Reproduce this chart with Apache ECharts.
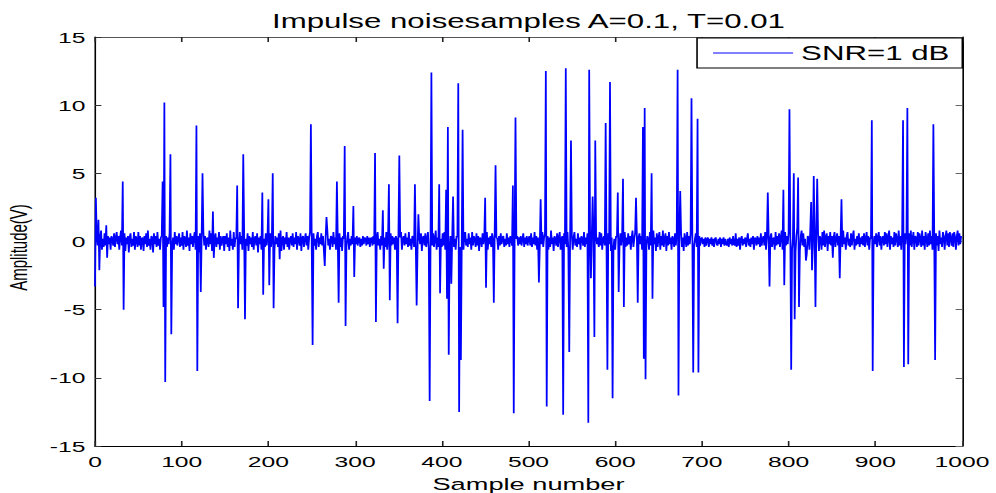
<!DOCTYPE html>
<html>
<head>
<meta charset="utf-8">
<script src="https://cdn.jsdelivr.net/npm/echarts@6/dist/echarts.min.js"></script>
<style>
html, body { margin: 0; padding: 0; background: #fff; overflow: hidden; width: 996px; height: 493px; }
/* the figure is laid out narrow and widened horizontally, like a resized MATLAB export */
#chart { width: 622px; height: 493px; transform: scaleX(1.60129); transform-origin: 0 0; }
</style>
</head>
<body>
<div id="chart"></div>
<script>
// Background noise, one row per 50 samples (volts)
const background = [
  .6,-.8,.4,-.3,.7,-.4,.3,.8,-.6,.2, -.4,.6,-.3,1,-.7,.4,-.2,.3,-.6,.4, .2,-.3,.6,-.4,.3,.7,-.2,.4,-.6,.3, .8,-.3,.2,-.4,.6,-.7,.3,-.2,.4,-.8, .3,.6,-.4,.2,-.3,.7,-.6,.4,.2,-.4,
  .7,-.3,.4,-.6,.2,.3,-.7,.4,-.2,.6, -.4,.8,-.3,.2,-.6,.4,.3,-.8,.6,-.2, .4,-.4,.7,-.3,.2,-.6,.3,.4,-.3,.8, -.6,.2,.4,-.4,.3,-.2,.6,-.7,.9,-.4, .3,-.6,.7,-.2,.4,-.3,.2,.6,-.4,.3,
  -.3,.7,-.6,.4,.2,-.4,.8,-.3,.3,-.7, .6,-.2,.4,-.4,.3,.7,-.6,.2,-.3,.4, -.8,.6,-.2,.3,-.4,.7,-.3,.4,-.6,.2, .3,-.4,.8,-.2,.6,-.7,.4,-.3,.2,.6, -.4,.3,-.2,.7,-.6,.4,-.3,.2,.4,-.7,
  .4,-.2,.6,-.4,.3,-.7,.8,-.3,.2,-.6, .7,-.4,.3,.2,-.6,.4,-.3,.7,-.2,.4, -.6,.3,.8,-.4,.2,-.3,.6,-.7,.4,-.2, .3,-.4,.7,-.6,.2,.4,-.3,.6,-.8,.3, -.2,.4,-.6,.7,-.3,.2,-.4,.6,-.3,.4,
  -.7,.3,.6,-.4,.2,-.3,.7,-.6,.4,-.2, .3,-.4,.6,-.3,.8,-.7,.2,.4,-.6,.3, -.2,.7,-.4,.3,-.6,.2,.4,-.3,.6,-.4, .3,-.2,.7,-.6,.4,.2,-.3,.6,-.7,.3, .4,-.4,.2,.6,-.3,.4,-.6,.3,.7,-.2,
  -.4,.3,.6,-.3,.2,-.6,.4,.7,-.4,.3, -.2,.6,-.3,.4,-.7,.2,.3,-.4,.8,-.3, .2,-.6,.4,.3,-.4,.7,-.2,.3,-.6,.4, .2,-.3,.6,-.4,.3,-.7,.4,.2,-.3,.6, -.4,.3,.7,-.6,.2,-.3,.4,-.2,.6,-.4,
  .3,-.2,.4,-.3,.2,.3,-.4,.2,-.3,.4, -.2,.3,.2,-.3,.4,-.2,.3,-.4,.2,.3, -.3,.4,-.2,.6,-.4,.3,.7,-.3,.2,-.6, .4,-.3,.6,-.2,.3,-.4,.7,-.6,.3,.2, -.4,.6,-.3,.4,-.2,.3,-.6,.4,.2,-.3,
  .6,-.4,.3,.7,-.6,.2,.4,-.3,.6,-.2, .3,-.4,.7,-.3,.2,-.6,.4,.3,-.4,.8, -.3,.2,-.6,.4,.3,-.2,.6,-.7,.3,.4, -.3,.6,-.4,.2,.7,-.6,.3,-.2,.4,-.3, .6,-.4,.2,.8,-.6,.3,-.4,.7,-.3,.2,
  -.4,.6,-.3,.7,-.6,.4,.2,-.3,.6,-.7, .4,-.2,.3,.7,-.4,.2,-.6,.4,.3,-.3, .6,-.4,.8,-.2,.3,-.6,.4,.7,-.3,.2, -.4,.6,-.2,.3,-.6,.7,-.3,.4,.2,-.4, .6,-.3,.4,-.7,.3,.2,-.4,.6,-.2,.3,
  -.3,.4,.7,-.6,.3,-.2,.4,-.4,.6,.2, -.3,.7,-.4,.3,.2,-.6,.4,-.3,.6,-.2, .3,.4,-.4,.2,-.3,.6,-.2,.3,-.4,.4, .2,-.3,.6,-.2,.3,-.4,.2,.4,-.3,.3, -.2,.4,-.3,.2,.6,-.4,.3,-.2,.4,-.3,
  .2,.4,-.3,.6,-.4,.3,-.2,.7,-.3,.4, -.6,.3,.2,-.4,.6,-.2,.7,-.4,.3,.6, -.3,.2,.4,-.6,.3,-.4,.8,-.2,.3,-.7, .4,.2,-.3,.6,-.4,.3,.7,-.6,.2,.4, -.3,.6,-.2,.3,-.4,.7,-.6,.4,.2,-.3,
  .4,-.6,.3,.7,-.3,.2,-.4,.6,-.2,.3, -.6,.4,.2,-.3,.7,-.4,.3,-.2,.6,-.4, .3,.8,-.6,.4,-.3,.2,.6,-.7,.4,-.2, .3,-.4,.7,-.3,.6,-.6,.2,.4,-.3,.7, -.4,.3,.6,-.2,.4,-.7,.3,.8,-.4,.2,
  -.6,.4,.3,-.4,.7,-.2,.6,-.3,.4,-.6, .2,.7,-.4,.3,-.3,.6,-.2,.4,-.6,.3, .8,-.4,.2,.6,-.3,.4,-.7,.3,.6,-.2, .4,-.6,.3,.2,-.4,.7,-.3,.4,.2,-.6, .7,-.3,.4,-.4,.8,-.2,.3,-.7,.6,-.4,
  .3,.7,-.6,.4,-.3,.8,-.4,.2,.6,-.7, .4,-.3,.7,-.2,.3,-.6,.4,.2,-.4,.6, -.3,.7,-.6,.3,.4,-.2,.6,-.4,.3,-.7, .6,.2,-.4,.7,-.3,.4,-.2,.6,-.6,.3, .4,-.3,.2,.6,-.4,.3,-.2,.4,-.3,.2,
  .3,-.2,.2,-.4,.3,-.3,.2,.3,-.4,.2, -.2,.3,-.3,.2,-.4,.2,.3,-.2,-.3,.2, -.2,.3,-.4,.2,-.2,.3,-.3,.2,-.2,-.3, .2,-.4,.3,-.2,.2,-.3,.4,-.2,-.3,.6, -.4,.2,-.3,.3,-.6,.2,.4,-.3,.2,-.2,
  .3,-.4,.2,.6,-.3,.2,-.4,.3,-.2,.4, -.6,.3,.2,-.3,.4,-.2,.3,-.4,.6,-.3, .2,.4,-.3,.7,-.6,.3,-.2,.4,-.7,.3, .6,-.4,.2,.3,-.6,.7,-.3,.4,-.2,.6, -.4,.3,.8,-.6,.2,-.4,.7,-.3,.4,-.2,
  .6,-.7,.4,.8,-.6,.3,-.4,.7,-.8,.4, 1,-.6,.3,-.7,.4,.8,-.3,.6,-.4,.2, .7,-.9,.4,.3,-.6,.8,-.4,.6,-.3,.4, .7,-.4,.8,-.3,.6,-.7,.4,.2,-.6,.7, -.3,.8,-.4,.3,.6,-.7,.4,-.2,.7,-.3,
  .4,-.6,.3,.7,-.4,.2,.6,-.3,.4,-.7, .3,.6,-.4,.8,-.2,.3,-.6,.4,.7,-.3, .2,-.4,.6,-.3,.4,.8,-.6,.2,-.3,.4, -.2,.6,-.4,.3,-.2,.4,-.3,.6,-.4,.2, .7,-.3,.4,-.6,.3,.2,-.4,.6,-.3,.4,
  -.2,.6,-.4,.3,.7,-.3,.4,-.6,.2,.4, -.3,.7,-.2,.6,-.4,.3,.8,-.6,.4,-.2, .3,-.4,.7,-.3,.6,.2,-.4,.8,-.3,.4, -.6,.7,.3,-.4,.6,-.2,.7,-.4,.3,.6, -.3,.8,-.4,.2,.7,-.6,.4,.3,-.4,.7,
  -.3,.6,.2,-.4,.8,-.3,.4,-.6,.7,.2, -.4,.6,-.3,.8,-.2,.4,-.6,.7,.3,-.4, .6,-.3,.4,-.7,.8,-.2,.3,-.4,.7,.3, -.6,.4,.8,-.3,.6,-.4,.7,.2,-.3,.6, -.4,.7,.3,-.6,.4,.8,-.3,.6,-.2,.4
];

// Impulse samples: sample number and amplitude (volts)
const spikeSamples = [
  0, 1, 4, 5, 13, 14, 32, 33, 78, 79, 80, 81, 87, 88, 117, 118, 122, 124, 136, 137,
  164, 165, 171, 173, 193, 194, 200, 201, 205, 206, 213, 249, 251, 265, 267, 279, 281, 288, 289, 298,
  299, 323, 324, 332, 333, 339, 340, 349, 351, 369, 371, 373, 386, 388, 397, 398, 405, 406, 407, 408,
  411, 413, 419, 420, 422, 424, 450, 451, 460, 462, 482, 483, 485, 512, 514, 520, 521, 540, 543, 547,
  549, 569, 570, 572, 574, 576, 577, 589, 591, 594, 597, 603, 604, 609, 610, 624, 626, 632, 633, 634,
  635, 642, 643, 672, 673, 675, 688, 690, 695, 696, 776, 778, 794, 795, 801, 803, 806, 807, 811, 812,
  820, 826, 827, 829, 831, 833, 851, 859, 861, 896, 897, 932, 933, 937, 938, 967, 969
];
const spikeAmplitudes = [
  -3.3, 3.2, 1.6, -2.1, 1.2, -1.2, 4.4, -5.0, 4.4, -4.8, 10.2, -10.3, 6.4, -6.8, 8.5, -9.5, -3.7, 5.0, 2.2, -1.2,
  4.1, -4.9, 6.4, -5.7, 3.6, -3.9, 3.1, -3.2, 5.0, -4.9, -1.3, 8.6, -7.6, -1.8, 1.8, 4.4, -4.5, 7.0, -6.2, 2.6,
  -2.6, 6.5, -5.9, 2.3, -2.0, 4.2, -4.3, -6.0, 6.3, 4.2, -4.7, 2.0, -11.7, 12.4, 4.2, -3.8, 3.8, -4.2, 8.4, -8.3,
  -3.1, 3.3, 11.6, -12.5, -8.7, 8.2, 3.2, -3.4, -4.5, 5.6, 4.1, -12.6, 9.1, -3.0, 3.1, 12.5, -12.1, -12.7, 12.7, -8.1,
  7.4, -13.3, 12.6, -2.7, 3.3, -7.0, 7.4, 8.7, -9.4, 11.7, -11.5, 3.6, -3.7, 4.6, -4.8, 3.2, -4.5, 8.4, -8.6, 9.8,
  -10.1, 5.0, -4.2, 12.6, -11.3, 3.7, 10.5, -9.6, 9.0, -9.6, 3.6, -3.3, 3.8, -3.2, 9.7, -9.4, 5.0, -5.7, 4.7, -4.8,
  -1.4, 2.9, -2.1, 4.8, -4.8, 4.6, -1.2, -2.7, 3.1, 8.9, -9.5, 8.9, -9.2, 9.8, -9.0, 8.6, -8.7
];

const xRange = { min: 0, max: 1000, step: 100 };
const yRange = { min: -15, max: 15, step: 5 };

const amplitude = background.slice();
spikeSamples.forEach((s, i) => { amplitude[s] = spikeAmplitudes[i]; });
const points = amplitude.map((v, i) => [i, v]);

const FONT = 'Liberation Sans, Arial, Helvetica, sans-serif';
const GRID_LEFT = 59.33, GRID_WIDTH = 541.43;

const chart = echarts.init(document.getElementById('chart'), null, { renderer: 'svg' });

const plainNumber = v => String(v);

const boxAxisX = (pos, lineColor, tickColor, showLabel) => ({
  type: 'value', position: pos, min: xRange.min, max: xRange.max, interval: xRange.step,
  axisLine: { show: true, onZero: false, lineStyle: { color: lineColor, width: 1 } },
  axisTick: { show: true, inside: true, length: 5, lineStyle: { color: tickColor, width: 1 } },
  axisLabel: { show: showLabel, margin: 8, color: '#000', fontSize: 15.4, fontFamily: FONT, formatter: plainNumber },
  splitLine: { show: false }
});
const boxAxisY = (pos, lineColor, tickColor, showLabel) => ({
  type: 'value', position: pos, min: yRange.min, max: yRange.max, interval: yRange.step,
  axisLine: { show: true, onZero: false, lineStyle: { color: lineColor, width: 1 } },
  axisTick: { show: true, inside: true, length: 4, lineStyle: { color: tickColor, width: 1 } },
  axisLabel: { show: showLabel, margin: 6, color: '#000', fontSize: 15.4, fontFamily: FONT, formatter: plainNumber },
  splitLine: { show: false }
});

const xBottom = Object.assign(boxAxisX('bottom', '#000', '#222', true), {
  name: 'Sample number', nameLocation: 'middle', nameGap: 29,
  nameTextStyle: { color: '#000', fontSize: 17, fontFamily: FONT }
});
const yLeft = Object.assign(boxAxisY('left', '#000', '#333', true), {
  name: 'Amplitude(V)', nameLocation: 'middle', nameGap: 40,
  nameTextStyle: { color: '#000', fontSize: 15, fontFamily: FONT, padding: [0, 12, 0, 0] }
});

chart.setOption({
  animation: false,
  backgroundColor: '#fff',
  title: {
    text: 'Impulse noisesamples A=0.1, T=0.01',
    left: GRID_LEFT + GRID_WIDTH / 2, textAlign: 'center', top: 11, padding: 0,
    textStyle: { color: '#000', fontWeight: 'normal', fontSize: 19.5, lineHeight: 20, fontFamily: FONT }
  },
  legend: {
    left: 435.3, top: 38,
    padding: [5, 8, 5, 10],
    backgroundColor: '#fff', borderColor: '#000', borderWidth: 1, borderRadius: 0,
    icon: 'rect', itemWidth: 50, itemHeight: 1,
    textStyle: { color: '#000', fontSize: 19.5, lineHeight: 20, fontFamily: FONT },
    data: ['SNR=1 dB']
  },
  grid: {
    left: GRID_LEFT, top: 37, width: GRID_WIDTH, height: 409,
    containLabel: false, outerBoundsMode: 'none'
  },
  xAxis: [xBottom, boxAxisX('top', '#555', '#222', false)],
  yAxis: [yLeft, boxAxisY('right', '#000', '#666', false)],
  series: [{
    name: 'SNR=1 dB',
    type: 'line',
    xAxisIndex: 0, yAxisIndex: 0,
    data: points,
    symbol: 'none',
    sampling: null,
    lineStyle: { color: '#0000ff', width: 1.1, join: 'bevel' },
    itemStyle: { color: '#0000ff' },
    z: 1
  }]
});
</script>
</body>
</html>
